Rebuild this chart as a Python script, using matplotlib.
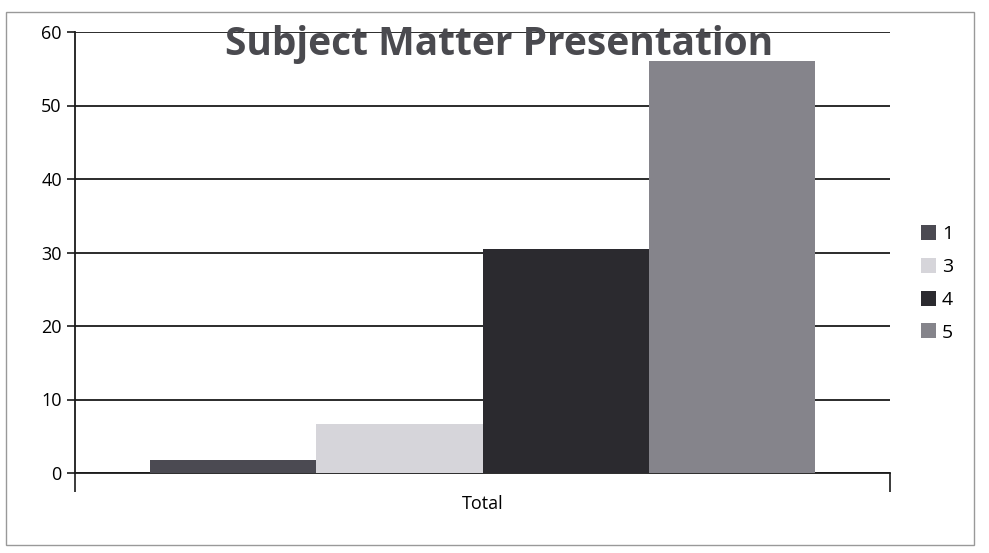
import matplotlib.pyplot as plt
from matplotlib.patches import Rectangle

# data
categories = ['Total']
series = ['1', '3', '4', '5']
values = [1.8, 6.7, 30.5, 56.0]
colors = ['#4b4a52', '#d6d5da', '#2b2a2f', '#85848b']
yticks = [0, 10, 20, 30, 40, 50, 60]

plt.rcParams['font.family'] = ['Open Sans', 'DejaVu Sans']

fig = plt.figure(figsize=(9.89, 5.53), dpi=100)
ax = fig.add_axes([75 / 989, 1 - 473 / 553, (890 - 75) / 989, (473 - 32) / 553])

# outer frame of the chart area
fig.patches.append(Rectangle((6 / 989, 8 / 553), 968 / 989, 533 / 553,
                             transform=fig.transFigure, fill=False,
                             edgecolor='#999999', lw=1))

width = 0.204
n = len(series)
for i, (name, val, col) in enumerate(zip(series, values, colors)):
    x = (i - (n - 1) / 2) * width
    ax.bar(x, val, width=width, color=col, label=name, zorder=3)

ax.set_xlim(-0.5, 0.5)
ax.set_ylim(0, 60)
ax.set_yticks(yticks)
ax.yaxis.grid(True, color='#1a1a1a', lw=1.3, zorder=0)
ax.set_axisbelow(True)

ax.set_xticks([0])
ax.set_xticklabels(categories)
ax.tick_params(axis='x', length=0, pad=16, labelsize=13)
ax.set_xticks([-0.5, 0.5], minor=True)
ax.tick_params(axis='x', which='minor', length=14, width=1.2, color='#1a1a1a')
ax.tick_params(axis='y', length=6, width=1.2, labelsize=13, color='#1a1a1a')

for s in ['top', 'right']:
    ax.spines[s].set_visible(False)
for s in ['left', 'bottom']:
    ax.spines[s].set_color('#1a1a1a')
    ax.spines[s].set_linewidth(1.3)

fig.text(499 / 989, 1 - 44 / 553, 'Subject Matter Presentation', ha='center',
         va='center', fontsize=28, fontweight='bold', color='#4a4a4f')

ax.legend(loc='center left', bbox_to_anchor=(1.016, 0.43), frameon=False,
          fontsize=14, handlelength=0.8, handleheight=0.8, handletextpad=0.3,
          labelspacing=0.75)

plt.savefig('out.png', dpi=100)
